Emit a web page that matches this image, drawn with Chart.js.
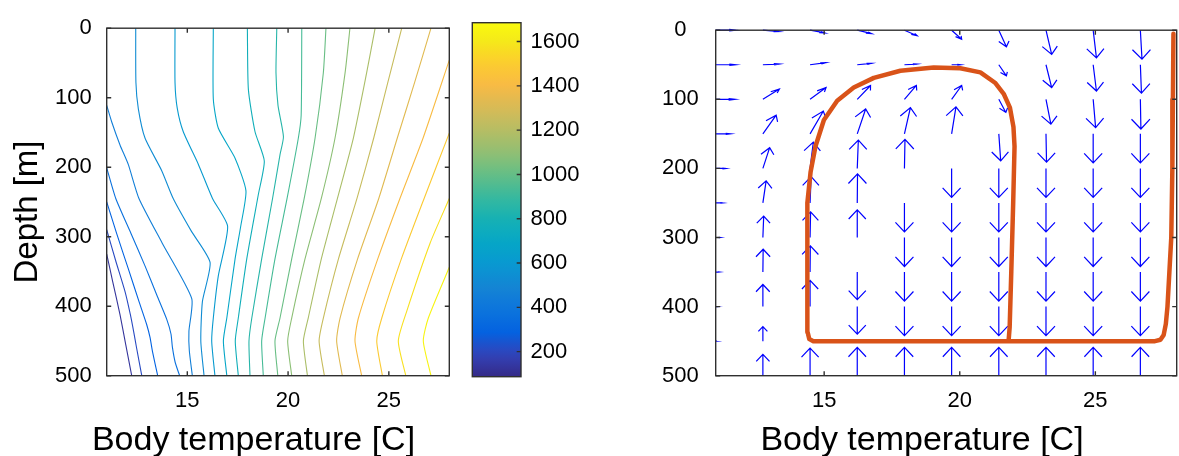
<!DOCTYPE html>
<html><head><meta charset="utf-8">
<script src="https://cdn.jsdelivr.net/npm/chart.js@4.4.1/dist/chart.umd.min.js"></script>
<style>
html,body{margin:0;padding:0;background:#fff;width:1179px;height:456px;overflow:hidden}
canvas{position:absolute;top:0}
</style></head><body>
<canvas id="left" style="left:0px" width="460" height="456"></canvas>
<canvas id="cbar" style="left:460px" width="140" height="456"></canvas>
<canvas id="right" style="left:600px" width="579" height="456"></canvas>
<script>
// ---------- data ----------
const xTicks = [15, 20, 25];
const yTicks = [0, 100, 200, 300, 400, 500];
const cbTicks = [200, 400, 600, 800, 1000, 1200, 1400, 1600];
const cbMin = 87, cbMax = 1685;

const contourLevels = [130,210,290,370,450,530,610,690,770,850,930,1010,1090,1170,1250,1330,1410,1490,1570,1650];
// each contour: [temperature, depth] pairs
const contourPaths = [
 [[11,325],[11.3,365],[11.66,412],[11.95,456],[12.24,500]],
 [[11,290],[11.45,335],[11.91,379],[12.18,413],[12.34,437],[12.47,458],[12.74,500]],
 [[11,250],[11.5,296],[12.07,346],[12.6,393],[12.98,426],[13.15,445],[13.27,465],[13.53,500]],
 [[11,201],[11.45,245],[12.2,295],[12.9,342],[13.5,385],[13.98,419],[14.19,440],[14.26,459],[14.4,481],[14.62,500]],
 [[11,111],[11.25,135],[11.66,168],[12.07,196],[12.6,245],[13.75,309],[15.22,389],[15.08,436],[15.1,464],[15.25,500]],
 [[12.44,0],[12.45,78],[12.57,116],[12.9,158],[13.73,205],[14.3,245],[15.2,292],[16.13,337],[15.75,393],[15.67,450],[15.83,500]],
 [[14.39,0],[14.39,78],[14.5,115],[14.8,149],[15.55,196],[16.25,245],[17.0,285],[16.54,356],[16.29,417],[16.21,450],[16.37,500]],
 [[16.29,0],[16.29,102],[16.54,144],[17.37,187],[17.91,234],[17.65,285],[17.37,332],[16.96,417],[16.79,450],[16.96,500]],
 [[17.98,0],[18.03,88],[18.36,149],[18.82,191],[18.52,240],[17.95,332],[17.53,417],[17.38,450],[17.53,500]],
 [[19.44,0],[19.4,64],[19.5,111],[19.77,156],[19.6,182],[19.23,245],[18.69,332],[18.2,417],[18.06,450],[18.11,500]],
 [[20.68,0],[20.65,125],[20.51,158],[19.95,245],[19.35,332],[18.86,417],[18.69,450],[18.77,500]],
 [[21.88,0],[21.75,64],[21.34,158],[20.8,245],[20.18,332],[19.6,417],[19.35,450],[19.49,500]],
 [[23.07,0],[22.83,64],[22.33,158],[21.65,245],[20.84,332],[20.18,417],[19.98,450],[20.18,500]],
 [[24.32,0],[23.9,64],[23.24,158],[22.45,245],[21.65,332],[21.0,417],[20.76,450],[20.96,500]],
 [[25.64,0],[24.95,78],[24.25,158],[23.42,245],[22.5,332],[21.75,417],[21.54,450],[21.8,500]],
 [[27.09,0],[26.28,78],[25.42,158],[24.5,245],[23.45,332],[22.58,417],[22.41,450],[22.69,500]],
 [[28,46],[26.7,158],[25.55,245],[24.45,332],[23.49,417],[23.32,450],[23.65,500]],
 [[28,151],[26.75,245],[25.62,332],[24.65,417],[24.4,450],[24.68,500]],
 [[28,245],[27.05,309],[25.89,407],[25.47,450],[25.84,500]],
 [[28,344],[26.96,417],[26.71,450],[27.09,500]]
];

// quiver grid
const gridT = [11, 12.74, 14.48, 16.22, 17.96, 19.7, 21.44, 23.18, 24.92, 26.66];
const gridD = [0, 50, 100, 150, 200, 250, 300, 350, 400, 450, 500];
const arrowDT = [
 [0.74,0.61,0.55,0.53,0.47,0.37,0.28,0.21,0.12,0.06],
 [0.75,0.61,0.59,0.53,0.47,0.31,0.28,0.21,0.12,0.04],
 [0.71,0.61,0.59,0.49,0.44,0.37,0.26,0.18,0.09,0.02],
 [0.55,0.49,0.49,0.31,0.22,0.16,0.07,0.02,0,0],
 [0.37,0.25,0.12,0.04,0.02,0,0,0,0,0],
 [0.26,0.12,0.04,0.01,0,0,0,0,0,0],
 [0.16,0.03,0.02,0,0,0,0,0,0,0],
 [0.12,0.01,0.01,0,0,0,0,0,0,0],
 [0.08,0,0,0,0,0,0,0,0,0],
 [0.05,0,0,0,0,0,0,0,0,0],
 [0,0,0,0,0,0,0,0,0,0]
];
const arrowDD = [
 [0,2,4,5,8,13,24,35,40,42],
 [0,-1,-3,-2,-1,0,16,33,38,41],
 [0,-15,-17,-20,-20,-20,19,36,41,43],
 [0,-27,-33,-36,-38,-39,39,41,42,42],
 [0,-30,-38,-41,-42,42,42,42,42,42],
 [0,-32,-38,-42,42,42,42,42,42,42],
 [0,-31,-37,-40,42,42,42,42,42,42],
 [0,-33,-38,40,42,42,42,42,42,42],
 [0,-32,-38,40,42,42,42,42,42,42],
 [0,-21,0,0,0,0,0,0,0,0],
 [0,-31,-40,-41,-41,-41,-41,-41,-41,-41]
];

// trajectory
const pathT = [27.88,27.86,27.84,27.8,27.73,27.66,27.6,27.52,27.4,27.2,21.8,14.6,14.45,14.39,14.37,14.37,14.4,14.5,14.68,14.99,15.48,16.09,16.83,17.81,19.04,20.02,20.76,21.3,21.62,21.85,21.98,22.02,21.97,21.9,21.84,21.8];
const pathD = [5,100,200,300,350,400,425,441,448,450,450,450,447,437,400,300,250,205,168,130,102,83,69,58.7,54,55,61,76,92,112,140,168,250,350,430,450];

// ---------- colormap (parula) ----------
const parulaStops = [
[0.2081,0.1663,0.5292],[0.1959,0.2645,0.7279],[0.0117,0.3875,0.8820],[0.0498,0.4586,0.8641],
[0.0793,0.5200,0.8312],[0.0343,0.5966,0.8199],[0.0228,0.6535,0.7768],[0.0843,0.6928,0.7062],
[0.2178,0.7250,0.6193],[0.3953,0.7459,0.5244],[0.5709,0.7485,0.4494],[0.7184,0.7411,0.3905],
[0.8507,0.7299,0.3360],[0.9739,0.7314,0.2666],[0.9880,0.8066,0.1794],[0.9598,0.9218,0.0948],
[0.9763,0.9831,0.0538]];
const stopPos = parulaStops.map((s,i)=> i < 16 ? i*4/63 : 1);
function parula(f){
  f = Math.max(0, Math.min(1, f));
  let i = 0; while (i < stopPos.length-2 && f > stopPos[i+1]) i++;
  const t = (f - stopPos[i])/(stopPos[i+1]-stopPos[i]);
  const a = parulaStops[i], b = parulaStops[i+1];
  const c = a.map((v,k)=> Math.round(255*(v + (b[k]-v)*t)));
  return `rgb(${c[0]},${c[1]},${c[2]})`;
}

// ---------- plugins ----------
const FONT = "'Liberation Sans', Arial, Helvetica, sans-serif";
const framePlugin = {
  id: 'frame',
  afterDraw(chart, args, o) {
    if (!o || !o.on) return;
    const {ctx, chartArea: a} = chart;
    ctx.save();
    ctx.strokeStyle = '#303030'; ctx.lineWidth = 1.4;
    ctx.strokeRect(a.left, a.top, a.right - a.left, a.bottom - a.top);
    const L = o.len || 4.5;
    ctx.beginPath();
    if (o.x) { const s = chart.scales.x; o.x.forEach(v => { const p = s.getPixelForValue(v);
      ctx.moveTo(p, a.bottom); ctx.lineTo(p, a.bottom - L); ctx.moveTo(p, a.top); ctx.lineTo(p, a.top + L); }); }
    if (o.y) { const s = chart.scales.y; o.y.forEach(v => { const p = s.getPixelForValue(v);
      if (!o.rightOnly) { ctx.moveTo(a.left, p); ctx.lineTo(a.left + L, p); }
      ctx.moveTo(a.right, p); ctx.lineTo(a.right - L, p); }); }
    ctx.stroke(); ctx.restore();
  }
};
const textPlugin = {
  id: 'texts',
  afterDraw(chart, args, o) {
    if (!o || !o.items) return;
    const ctx = chart.ctx;
    o.items.forEach(it => {
      ctx.save();
      ctx.font = `${it.size || 34}px ${FONT}`; ctx.fillStyle = '#000'; ctx.textAlign = 'center';
      ctx.textBaseline = it.base || 'alphabetic';
      ctx.translate(it.x, it.y); if (it.rot) ctx.rotate(it.rot);
      ctx.fillText(it.text, 0, 0); ctx.restore();
    });
  }
};
const quiverPlugin = {
  id: 'quiver',
  beforeDatasetsDraw(chart, args, o) {
    if (!o || !o.on) return;
    const {ctx} = chart, sx = chart.scales.x, sy = chart.scales.y;
    const al = 0.33, be = 0.33, r = 2.85;
    ctx.save();
    ctx.strokeStyle = '#0000ff'; ctx.lineWidth = 1.2; ctx.lineCap = 'butt'; ctx.lineJoin = 'miter';
    gridD.forEach((d, i) => gridT.forEach((t, j) => {
      const u = arrowDT[i][j], v = arrowDD[i][j];
      if (!u && !v) return;
      const x0 = sx.getPixelForValue(t), y0 = sy.getPixelForValue(d);
      const x1 = sx.getPixelForValue(t + u), y1 = sy.getPixelForValue(d + v);
      const qx = x1 - x0, qy = y0 - y1;
      const b1x = x1 - al*(qx + be*r*qy), b1y = y1 + al*(qy - be*qx/r);
      const b2x = x1 - al*(qx - be*r*qy), b2y = y1 + al*(qy + be*qx/r);
      ctx.beginPath();
      ctx.moveTo(x0, y0); ctx.lineTo(x1, y1);
      ctx.moveTo(b1x, b1y); ctx.lineTo(x1, y1); ctx.lineTo(b2x, b2y);
      ctx.stroke();
    }));
    ctx.restore();
  }
};
Chart.register(framePlugin, textPlugin, quiverPlugin);

const plainLabel = v => String(v);
function axisX(h) {
  return { type: 'linear', min: 11, max: 28, grid: {display: false, drawTicks: false}, border: {display: false},
    ticks: {font: {family: FONT, size: 22}, color: '#000', padding: 12, autoSkip: false, maxRotation: 0, callback: plainLabel},
    afterBuildTicks: s => { s.ticks = xTicks.map(v => ({value: v})); },
    afterFit: s => { s.height = h; } };
}
function axisY(w, pad, cross) {
  return { type: 'linear', reverse: true, min: 0, max: 500, grid: {display: false, drawTicks: false}, border: {display: false},
    ticks: {font: {family: FONT, size: 22}, color: '#000', padding: pad, autoSkip: false, crossAlign: cross, callback: plainLabel},
    afterBuildTicks: s => { s.ticks = yTicks.map(v => ({value: v})); },
    afterFit: s => { s.width = w; } };
}
const common = { responsive: false, animation: false, devicePixelRatio: 1, events: [] };

// ---------- left: contours ----------
new Chart(document.getElementById('left'), {
  type: 'scatter',
  data: { datasets: contourPaths.map((pts, i) => ({
    data: pts.map(p => ({x: p[0], y: p[1]})), showLine: true, pointRadius: 0,
    borderColor: parula((contourLevels[i] - cbMin) / (cbMax - cbMin)), borderWidth: 1.1, tension: 0.2 })) },
  options: Object.assign({}, common, {
    layout: {padding: {left: 0, top: 21, right: 10.7, bottom: 0}},
    plugins: { legend: {display: false}, tooltip: {enabled: false},
      frame: {on: true, x: xTicks, y: yTicks},
      texts: {items: [
        {text: 'Depth [m]', x: 27.5, y: 212, rot: -Math.PI/2, base: 'middle', size: 33},
        {text: 'Body temperature [C]', x: 253.5, y: 450}
      ]} },
    scales: { x: axisX(80.3), y: axisY(106.7, 15, 'near') }
  })
});

// ---------- colorbar ----------
new Chart(document.getElementById('cbar'), {
  type: 'bar',
  data: { labels: [''], datasets: [{ data: [[cbMin, cbMax]], borderWidth: 0, barPercentage: 1, categoryPercentage: 1,
    backgroundColor: c => {
      const a = c.chart.chartArea; if (!a) return '#888';
      const g = c.chart.ctx.createLinearGradient(0, a.bottom, 0, a.top);
      for (let k = 0; k <= 40; k++) g.addColorStop(k/40, parula(k/40));
      return g;
    } }] },
  options: Object.assign({}, common, {
    layout: {padding: {left: 12.3, top: 21, right: 0, bottom: 79.3}},
    plugins: { legend: {display: false}, tooltip: {enabled: false},
      frame: {on: true, y: cbTicks, rightOnly: true, len: 4.3} },
    scales: {
      x: { display: false },
      y: { position: 'right', min: cbMin, max: cbMax, beginAtZero: false,
        grid: {display: false, drawTicks: false}, border: {display: false},
        ticks: {font: {family: FONT, size: 22}, color: '#000', padding: 9.5, autoSkip: false, callback: plainLabel},
        afterBuildTicks: s => { s.ticks = cbTicks.map(v => ({value: v})); },
        afterFit: s => { s.width = 79; } }
    }
  })
});

// ---------- right: quiver + trajectory ----------
new Chart(document.getElementById('right'), {
  type: 'scatter',
  data: { datasets: [{
    data: pathT.map((t, i) => ({x: t, y: pathD[i]})), showLine: true, pointRadius: 0,
    borderColor: '#d95319', borderWidth: 4.5, tension: 0, borderJoinStyle: 'round', borderCapStyle: 'round' }] },
  options: Object.assign({}, common, {
    layout: {padding: {left: 0, top: 21, right: 2.3, bottom: 0}},
    plugins: { legend: {display: false}, tooltip: {enabled: false},
      frame: {on: true, x: xTicks, y: yTicks},
      quiver: {on: true},
      texts: {items: [ {text: 'Body temperature [C]', x: 322, y: 450} ]} },
    scales: { x: axisX(80.3), y: axisY(115.7, 17, 'center') }
  })
});
</script>
</body></html>
